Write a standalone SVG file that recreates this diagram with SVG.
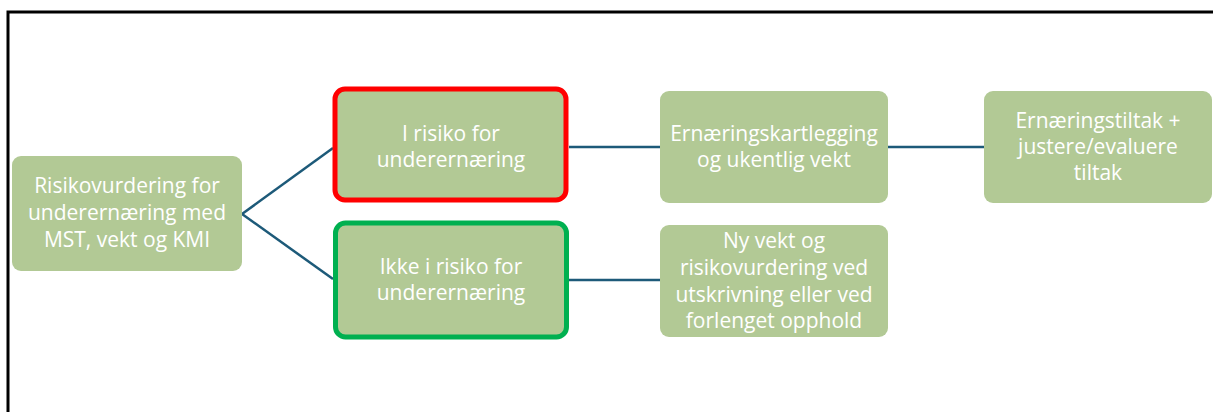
<svg xmlns="http://www.w3.org/2000/svg" width="1213" height="412" viewBox="0 0 1213 412">
<style>
.box{fill:#B2C995;}
.t{font-family:"Open Sans","Liberation Sans",sans-serif;font-size:21px;fill:#FFFFFF;text-anchor:middle;}
.c{stroke:#1D5A79;stroke-width:2.5;fill:none;}
.frame{stroke:#000;stroke-width:3;fill:none;}
</style>
<rect x="0" y="0" width="1213" height="412" fill="#FFFFFF"/>
<path class="frame" d="M8 412 V12 H1213"/>
<g id="connectors">
<line class="c" x1="242" y1="214" x2="333" y2="148"/>
<line class="c" x1="242" y1="214" x2="333" y2="279"/>
<line class="c" x1="569" y1="147" x2="660" y2="147"/>
<line class="c" x1="569" y1="280" x2="660" y2="280"/>
<line class="c" x1="888" y1="147" x2="984" y2="147"/>
</g>
<g id="node-risikovurdering">
<rect class="box" x="12" y="156" width="230" height="115" rx="9"/>
<text class="t" x="127" y="193">Risikovurdering for</text>
<text class="t" x="127" y="220">underernæring med</text>
<text class="t" x="127" y="247">MST, vekt og KMI</text>
</g>
<g id="node-i-risiko">
<rect class="box" x="335" y="89" width="231" height="111" rx="10" stroke="#FF0000" stroke-width="5"/>
<text class="t" x="451" y="141">I risiko for</text>
<text class="t" x="451" y="167">underernæring</text>
</g>
<g id="node-ikke-risiko">
<rect class="box" x="335.5" y="223" width="231" height="114" rx="10" stroke="#00B050" stroke-width="5"/>
<text class="t" x="451" y="274">Ikke i risiko for</text>
<text class="t" x="451" y="300">underernæring</text>
</g>
<g id="node-kartlegging">
<rect class="box" x="660" y="91" width="228" height="112" rx="9"/>
<text class="t" x="774" y="141">Ernæringskartlegging</text>
<text class="t" x="774" y="167">og ukentlig vekt</text>
</g>
<g id="node-ny-vekt">
<rect class="box" x="660" y="225" width="228" height="112" rx="9"/>
<text class="t" x="774" y="248">Ny vekt og</text>
<text class="t" x="774" y="275">risikovurdering ved</text>
<text class="t" x="774" y="302">utskrivning eller ved</text>
<text class="t" x="774" y="328">forlenget opphold</text>
</g>
<g id="node-tiltak">
<rect class="box" x="984" y="91" width="228" height="112" rx="9"/>
<text class="t" x="1098" y="128">Ernæringstiltak +</text>
<text class="t" x="1098" y="154">justere/evaluere</text>
<text class="t" x="1098" y="180">tiltak</text>
</g>
</svg>
